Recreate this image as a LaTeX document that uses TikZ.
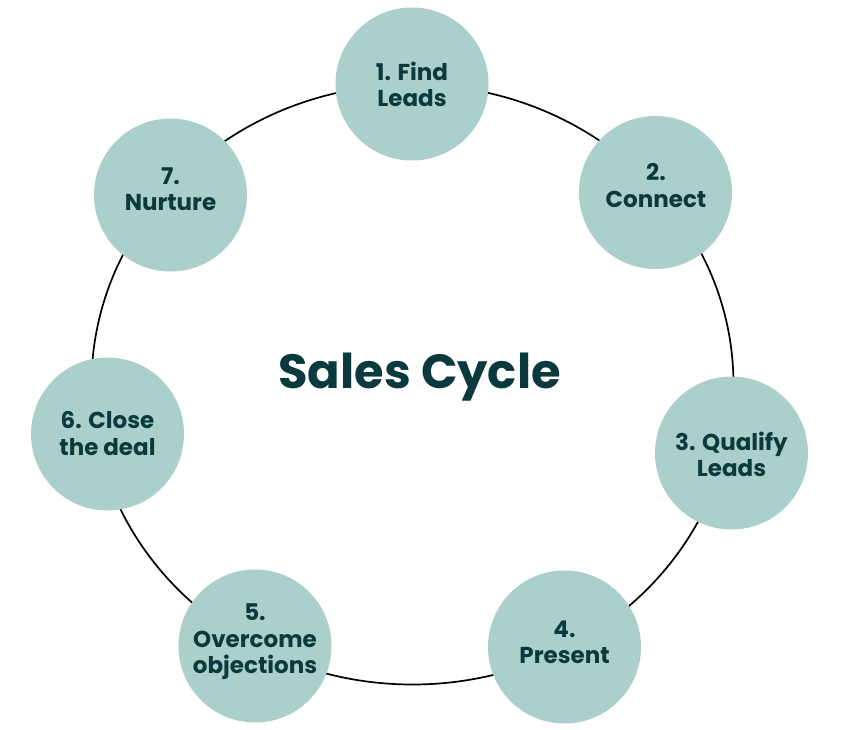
\documentclass[tikz,border=0pt]{standalone}
\usepackage{fontspec}
\setmainfont{Poppins}
\definecolor{stepfill}{HTML}{ABCFCA}
\definecolor{steptext}{HTML}{0A3A3E}
\begin{document}
\begin{tikzpicture}[x=1pt,y=-1pt,
  stepnode/.style={circle,fill=stepfill,minimum size=153pt,inner sep=0pt},
  steplabel/.style={align=center,text=steptext,inner sep=0pt,
    font=\bfseries\fontsize{23}{26.5}\selectfont},
  cycleline/.style={line width=1.7pt,black}]
\useasboundingbox[fill=white] (0,0) rectangle (846,730);
\draw[cycleline] (412.5,384.5) ellipse [x radius=321pt, y radius=300pt];
\node[stepnode] (s1) at (412,84) {};
\node[stepnode] (s2) at (655.5,192.5) {};
\node[stepnode] (s3) at (731.5,453) {};
\node[stepnode] (s4) at (564.5,647) {};
\node[stepnode] (s5) at (255,646) {};
\node[stepnode] (s6) at (107.5,434) {};
\node[stepnode] (s7) at (170.5,195) {};
\node[steplabel] (t1) at (412,84.5) {1. Find\\Leads};
\node[steplabel] (t2) at (656,185.5) {2.\\Connect};
\node[steplabel] (t3) at (731.5,454.5) {3. Qualify\\Leads};
\node[steplabel] (t4) at (564.5,642.5) {4.\\Present};
\node[steplabel] (t5) at (255,642) {5.\\Overcome\\objections};
\node[steplabel] (t6) at (107.5,433.5) {6. Close\\the deal};
\node[steplabel] (t7) at (170.5,189) {7.\\Nurture};
\node[anchor=base,text=steptext,font=\bfseries\fontsize{48}{56}\selectfont,inner sep=0pt] (title) at (419.5,388) {Sales Cycle};
\end{tikzpicture}
\end{document}
